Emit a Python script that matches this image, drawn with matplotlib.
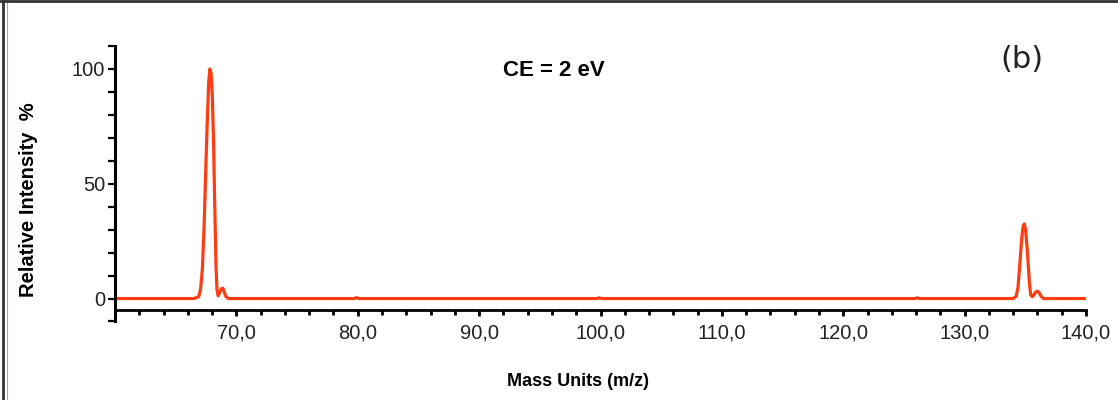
import numpy as np
import matplotlib
matplotlib.use('Agg')
import matplotlib.pyplot as plt
from matplotlib.lines import Line2D
from matplotlib.ticker import MultipleLocator, FixedLocator

# spectrum trace (m/z, relative intensity %)
mz = [60.0, 66.5, 66.9, 67.05, 67.2, 67.35, 67.5, 67.62, 67.72, 67.82, 67.92,
      68.02, 68.12, 68.22, 68.32, 68.4, 68.5, 68.62, 68.75, 68.88, 69.0, 69.12,
      69.3, 69.5,
      79.7, 79.9, 80.1,
      99.7, 99.9, 100.1,
      125.9, 126.1, 126.3,
      134.0, 134.25, 134.4, 134.55, 134.7, 134.82, 134.92, 135.02, 135.15,
      135.25, 135.35, 135.45, 135.58, 135.7, 135.85, 136.0, 136.15, 136.3,
      136.5, 140.0]
intensity = [0, 0, 0.8, 4, 13, 33, 60, 80, 94, 100, 98,
             88, 68, 40, 15, 4, 1.2, 2.5, 4.2, 4.5, 3, 1,
             0.1, 0,
             0, 0.4, 0,
             0, 0.3, 0,
             0, 0.3, 0,
             0, 1, 5, 15, 26, 31.5, 32.5, 30, 22,
             14, 6, 1.5, 0.8, 1.5, 2.8, 3.2, 2.5, 1,
             0, 0]

x_major = [70, 80, 90, 100, 110, 120, 130, 140]
x_labels = ['70,0', '80,0', '90,0', '100,0', '110,0', '120,0', '130,0', '140,0']
y_major = [0, 50, 100]
y_labels = ['0', '50', '100']

plt.rcParams['font.family'] = ['Liberation Sans', 'DejaVu Sans']

fig = plt.figure(figsize=(11.18, 4.0), dpi=100)
ax = fig.add_axes([115/1118, 1 - 321.5/400, (1086 - 115)/1118, 275.5/400])

ax.plot(mz, intensity, color='#ff3d12', lw=2.3, solid_joinstyle='round')

ax.set_xlim(60, 140)
ax.set_ylim(-10, 110)

for s in ['top', 'right']:
    ax.spines[s].set_visible(False)
ax.spines['bottom'].set_position(('data', -5))
ax.spines['bottom'].set_linewidth(2)
ax.spines['left'].set_linewidth(2.2)

ax.xaxis.set_major_locator(FixedLocator(x_major))
ax.set_xticklabels(x_labels)
ax.xaxis.set_minor_locator(MultipleLocator(2))
ax.yaxis.set_major_locator(FixedLocator(y_major))
ax.set_yticklabels(y_labels)
ax.yaxis.set_minor_locator(MultipleLocator(10))

ax.tick_params(axis='x', which='major', direction='out', length=4, width=2,
               labelsize=14.5, pad=6, labelcolor='#222222')
ax.tick_params(axis='x', which='minor', direction='out', length=3.5, width=2)
ax.tick_params(axis='y', which='both', direction='out', length=5, width=1.6)
ax.tick_params(axis='y', which='major', labelsize=14.5, pad=2, labelcolor='#222222')

fig.text(29/1118, 1 - 200/400, 'Relative Intensity  %', rotation=90, ha='center', va='center',
         fontsize=14.5, fontweight='bold')
fig.text(578/1118, 1 - 381/400, 'Mass Units (m/z)', ha='center', va='center',
         fontsize=13, fontweight='bold')

fig.text(554/1118, 1 - 70/400, 'CE = 2 eV', ha='center', va='center',
         fontsize=16, fontweight='bold')
fig.text(1022/1118, 1 - 60/400, '(b)', ha='center', va='center',
         fontsize=22, family='DejaVu Sans', color='#222222')

# frame lines at the top and left edge of the picture
fig.add_artist(Line2D([3/1118, 3/1118], [0, 1], transform=fig.transFigure,
                      color='#333333', lw=2))
fig.add_artist(Line2D([7/1118, 7/1118], [0, 1], transform=fig.transFigure,
                      color='#aaaaaa', lw=0.8))
fig.add_artist(Line2D([0, 1], [1 - 1.2/400, 1 - 1.2/400], transform=fig.transFigure,
                      color='#333333', lw=2))

fig.savefig('out.png', dpi=100)
